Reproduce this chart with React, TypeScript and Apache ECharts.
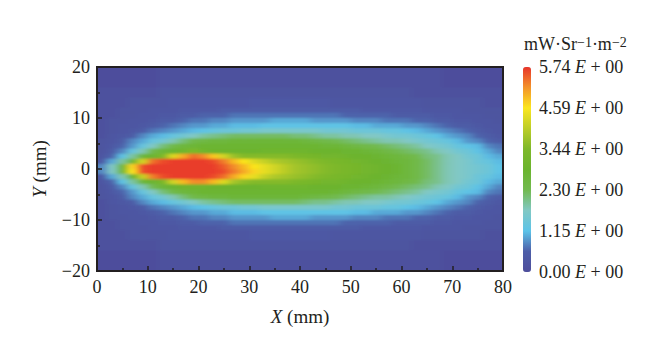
import React, { useEffect, useRef } from "react";
import * as echarts from "echarts";

// column and row boundaries of the sampled field (mm)
const xEdges = [-4,2,4,6,8,10,12,14,16,18,20,22,24,26,28,30,32,34,36,38,40,42,44,46,48,50,52,54,56,58,60,62,64,66,68,70,72,74,76,78,84];
const yEdges = [24,16,14,12,11,10,9,8,7,6,5,4,3,2,1,0,-1,-2,-3,-4,-5,-6,-7,-8,-9,-10,-11,-12,-14,-16,-24];

// radiance, in units of 0.1 mW·Sr-1·m-2; one list per row, top to bottom
const rowsUpper = [
[0,0,0,0,0,0,1,1,1,1,1,1,1,1,1,1,1,1,1,1,1,1,1,1,1,1,1,1,1,1,1,1,1,1,0,0,0,0,0,0],
[1,1,1,1,1,1,2,2,2,2,2,2,2,2,2,2,2,2,2,2,2,2,2,2,2,2,2,2,2,2,2,1,1,1,1,1,1,1,1,1],
[1,1,1,2,2,2,2,3,3,3,3,3,3,3,3,4,4,4,4,4,4,4,4,3,3,3,3,3,3,3,3,3,2,2,2,2,2,2,1,1],
[1,1,2,2,2,3,3,3,4,4,4,4,5,5,5,5,5,5,5,5,5,5,5,5,5,5,4,4,4,4,4,4,3,3,3,3,2,2,2,2],
[1,1,2,2,3,3,4,4,5,5,6,6,6,7,7,7,7,7,7,7,7,7,7,7,6,6,6,6,6,5,5,5,5,4,4,3,3,3,2,2],
[1,2,2,3,3,4,5,5,6,7,7,8,8,9,9,9,9,10,10,10,10,9,9,9,9,8,8,8,7,7,7,6,6,5,5,4,4,3,3,2],
[1,2,3,3,4,5,6,7,8,9,9,10,10,11,11,11,12,12,12,12,12,12,12,12,12,11,11,10,10,10,9,9,8,7,6,5,5,4,3,3],
[1,2,3,4,5,7,8,9,10,11,12,13,14,14,15,15,16,16,16,16,16,16,15,15,15,14,14,14,13,13,12,11,10,9,8,7,6,5,4,3],
[1,3,4,5,8,10,11,13,15,17,19,20,21,22,22,22,22,22,22,21,21,20,19,19,18,18,17,17,16,15,15,14,13,12,10,9,8,6,5,4],
[2,3,5,8,10,13,15,18,21,24,25,26,26,27,27,27,27,27,27,27,26,25,24,23,22,21,20,19,18,18,17,16,15,14,13,11,9,8,6,5],
[2,4,6,9,13,17,21,24,26,27,28,28,28,28,28,28,28,28,28,28,28,28,27,27,26,25,24,23,22,21,20,19,17,16,15,13,12,11,8,7],
[2,5,8,13,18,24,27,28,30,34,30,29,29,29,29,29,30,30,30,30,30,29,29,29,28,28,27,26,25,23,22,21,20,18,17,15,14,12,10,8],
[3,6,12,19,27,28,34,43,50,54,52,48,42,37,35,35,35,35,35,34,33,32,31,31,30,29,29,28,27,26,25,23,21,20,18,17,15,14,11,10],
[4,10,19,30,42,54,56,57,57,57,57,56,53,49,46,43,41,39,38,37,36,35,34,33,32,31,30,29,28,27,26,24,22,20,18,17,16,14,13,11],
[8,17,28,47,56,57,57,57,57,57,57,57,55,52,49,46,44,42,40,38,37,36,35,34,33,32,31,30,29,28,26,24,22,20,18,17,16,15,14,12],
];
const rowsLower = [
[8,17,28,46,56,57,57,57,57,57,57,57,56,53,50,47,44,42,40,38,37,36,35,34,33,32,31,30,29,28,26,24,22,20,18,17,16,15,14,12],
[4,10,18,29,41,53,56,57,57,57,57,56,54,50,47,44,41,39,38,37,36,35,34,33,32,31,30,29,28,27,26,24,22,20,18,17,16,14,13,11],
[3,6,12,19,27,28,33,42,49,52,52,49,43,38,36,35,35,35,35,34,33,32,31,31,30,29,29,28,27,26,25,23,21,20,18,17,15,14,11,10],
[2,5,8,13,18,23,27,28,30,30,30,29,29,29,29,29,30,30,30,30,30,29,29,29,28,28,27,26,25,23,22,21,20,18,17,15,14,12,10,8],
[2,4,6,9,13,17,21,24,26,27,28,28,28,28,28,28,28,28,28,28,28,28,28,27,26,25,24,23,22,21,20,19,17,16,15,13,12,11,8,7],
[2,3,5,8,10,13,15,18,21,24,25,26,26,27,27,27,27,27,27,27,26,25,24,23,22,21,20,19,19,18,17,16,15,14,13,11,9,8,6,5],
[1,3,4,5,8,10,11,13,15,17,19,20,21,22,22,22,22,22,22,22,21,20,20,19,18,18,17,17,16,15,15,14,13,12,10,9,8,6,5,4],
[1,2,3,4,5,7,8,9,10,11,12,13,14,14,15,15,16,16,16,16,16,16,16,15,15,14,14,14,13,13,12,11,10,9,8,7,6,5,4,3],
[1,2,3,3,4,5,6,7,8,9,9,10,10,11,11,11,12,12,12,12,12,12,12,12,12,11,11,10,10,10,9,9,8,7,6,5,5,4,3,3],
[1,2,2,3,3,4,5,5,6,7,7,8,8,9,9,9,9,10,10,10,10,9,9,9,9,8,8,8,7,7,7,6,6,5,5,4,4,3,3,2],
[1,1,2,2,3,3,4,4,5,5,6,6,6,7,7,7,7,7,7,7,7,7,7,7,6,6,6,6,6,5,5,5,5,4,4,3,3,3,2,2],
[1,1,2,2,2,3,3,3,4,4,4,4,5,5,5,5,5,5,5,5,5,5,5,5,5,5,4,4,4,4,4,4,3,3,3,3,2,2,2,2],
[1,1,1,2,2,2,2,3,3,3,3,3,3,3,3,4,4,4,4,4,4,4,4,3,3,3,3,3,3,3,3,3,2,2,2,2,2,2,1,1],
[1,1,1,1,1,1,2,2,2,2,2,2,2,2,2,2,2,2,2,2,2,2,2,2,2,2,2,2,2,2,2,1,1,1,1,1,1,1,1,1],
[0,0,0,0,0,0,1,1,1,1,1,1,1,1,1,1,1,1,1,1,1,1,1,1,1,1,1,1,1,1,1,1,1,1,0,0,0,0,0,0],
];

const legendTicks = ["0.00", "1.15", "2.30", "3.44", "4.59", "5.74"];
const colorStops = ["#4e4e9c","#4d5ea8","#5cc3e8","#82c8c4","#72ba50","#6bb42e","#7eb82b","#bccd28","#fbe61e","#f3932a","#e8352a"];
const maxTenths = 57.4;
const FONT = "'Liberation Serif', serif";
const INK = "#231f20";

const cells: number[][] = [];
[...rowsUpper, ...rowsLower].forEach((row, r) => {
  row.forEach((v, c) => cells.push([xEdges[c], xEdges[c + 1], yEdges[r + 1], yEdges[r], v]));
});

function App() {
  const backRef = useRef<HTMLDivElement>(null);
  const frontRef = useRef<HTMLDivElement>(null);

  useEffect(() => {
    const back = echarts.init(backRef.current!, undefined, { renderer: "svg" });
    const front = echarts.init(frontRef.current!, undefined, { renderer: "svg" });

    back.setOption({
      animation: false,
      grid: { left: 0, right: 0, top: 0, bottom: 0 },
      xAxis: { type: "value", min: -4, max: 84, show: false },
      yAxis: { type: "value", min: -24, max: 24, show: false },
      visualMap: { show: false, min: 0, max: maxTenths, dimension: 4, inRange: { color: colorStops } },
      series: [{
        type: "custom",
        data: cells,
        encode: { x: [0, 1], y: [2, 3] },
        clip: false,
        renderItem: (_: any, api: any) => {
          const a = api.coord([api.value(0), api.value(3)]);
          const b = api.coord([api.value(1), api.value(2)]);
          return {
            type: "rect",
            shape: { x: a[0] - 0.5, y: a[1] - 0.5, width: b[0] - a[0] + 1, height: b[1] - a[1] + 1 },
            style: { fill: api.visual("color") },
          };
        },
      }],
    });

    const tickLabel = { color: INK, fontFamily: FONT, fontSize: 18 };
    const ticks = { inside: true, length: 5, lineStyle: { color: INK, width: 1.5 } };
    const minor = { show: true, splitNumber: 2, length: 3, lineStyle: { color: INK, width: 1.5 } };
    const line = { show: true, onZero: false, lineStyle: { color: INK, width: 2 } };
    const nameStyle = {
      color: INK, fontFamily: FONT, fontSize: 19,
      rich: { i: { fontStyle: "italic", fontFamily: FONT, fontSize: 19, color: INK } },
    };

    front.setOption({
      animation: false,
      backgroundColor: "transparent",
      grid: [
        { left: 97, top: 67, width: 406, height: 204, show: true, borderColor: INK, borderWidth: 2, backgroundColor: "transparent" },
        { left: 523, top: 67, width: 8, height: 205 },
      ],
      xAxis: [
        {
          type: "value", gridIndex: 0, min: 0, max: 80, interval: 10, position: "bottom",
          axisLine: line, axisTick: ticks, minorTick: minor, splitLine: { show: false },
          axisLabel: { ...tickLabel, margin: 7 },
          name: "{i|X} (mm)", nameLocation: "middle", nameGap: 36, nameTextStyle: nameStyle,
        },
        { type: "value", gridIndex: 1, min: 0, max: 1, show: false },
      ],
      yAxis: [
        {
          type: "value", gridIndex: 0, min: -20, max: 20, interval: 10, position: "left",
          axisLine: line, axisTick: ticks, minorTick: minor, splitLine: { show: false },
          axisLabel: { ...tickLabel, margin: 7, formatter: (v: number) => (v < 0 ? "−" + -v : String(v)) },
          name: "{i|Y} (mm)", nameLocation: "middle", nameGap: 48, nameTextStyle: nameStyle,
        },
        {
          type: "value", gridIndex: 1, min: 0, max: 5.74, interval: 1.148, position: "right",
          axisLine: { show: false }, axisTick: { show: false }, splitLine: { show: false },
          axisLabel: {
            ...tickLabel, margin: 8,
            formatter: (v: number) => legendTicks[Math.round(v / 1.148)] + " {i|E} + 00",
            rich: { i: { fontStyle: "italic", fontFamily: FONT, fontSize: 18, color: INK } },
          },
        },
      ],
      visualMap: {
        type: "continuous", show: true, seriesIndex: [], min: 0, max: maxTenths, left: 523, top: 67,
        itemWidth: 8, itemHeight: 205, calculable: false, showLabel: false, text: ["", ""], padding: 0,
        inRange: { color: colorStops },
      },
      graphic: [{
        type: "text", left: 524, top: 35,
        style: {
          text: "mW·Sr{s|−1}·m{s|−2}",
          fill: INK, font: `18px ${FONT}`,
          rich: { s: { fontSize: 14, fontFamily: FONT, fill: INK, verticalAlign: "top", lineHeight: 16 } },
        },
      }],
      series: [],
    });

    return () => { back.dispose(); front.dispose(); };
  }, []);

  return (
    <div style={{ position: "fixed", left: 0, top: 0, width: 660, height: 355, background: "#fff", overflow: "hidden" }}>
      <svg width={0} height={0} style={{ position: "absolute" }}>
        <filter id="soft" x="-5%" y="-5%" width="110%" height="110%">
          <feGaussianBlur stdDeviation="3.5 1.3" />
        </filter>
      </svg>
      <div style={{ position: "absolute", left: 97, top: 67, width: 406, height: 204, overflow: "hidden", background: colorStops[0] }}>
        <div ref={backRef} style={{ position: "absolute", left: -20, top: -20, width: 447, height: 245, filter: "url(#soft)" }} />
      </div>
      <div ref={frontRef} style={{ position: "absolute", left: 0, top: 0, width: 660, height: 355 }} />
    </div>
  );
}

export default App;
